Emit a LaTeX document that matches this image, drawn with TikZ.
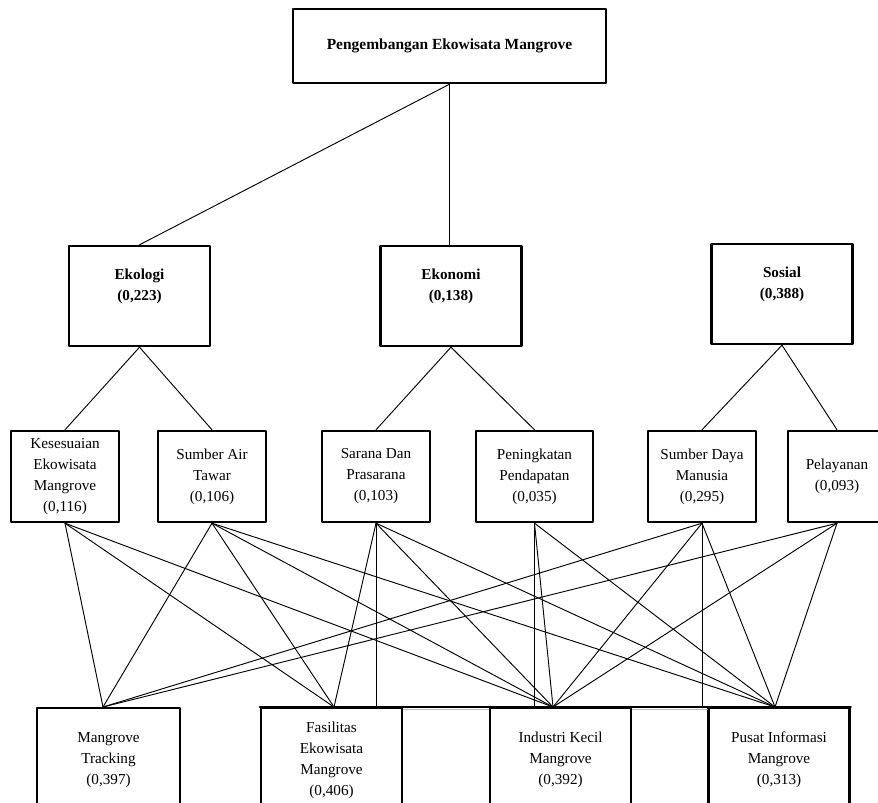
\documentclass[tikz,border=0pt]{standalone}
\usepackage{fontspec}
\setmainfont{Liberation Serif}
\usetikzlibrary{calc,positioning}

\tikzset{
  box/.style={draw, line width=1.8pt, inner sep=0pt, align=center,
    font=\fontsize{11.4}{15.75}\selectfont},
  goalbox/.style={box, minimum width=234.75pt, minimum height=55.5pt,
    font=\fontsize{11.6}{15.75}\selectfont\bfseries},
  critbox/.style={box, minimum width=105.75pt, minimum height=75pt},
  crittext/.style={inner sep=0pt, align=center,
    font=\fontsize{11.4}{15.75}\selectfont\bfseries},
  subbox/.style={box, minimum width=81pt, minimum height=68.25pt},
  altbox/.style={box, minimum width=105.75pt, minimum height=78pt},
  link/.style={line width=0.7pt}
}

\begin{document}
\begin{tikzpicture}[x=0.75pt, y=-0.75pt, line join=round, line cap=round]
    \useasboundingbox (0,0) rectangle (878,803);
    \clip (0,0) rectangle (878,803);
    \fill[white] (0,0) rectangle (878,803);

    % goal
    \node[goalbox] (goal) at (449.5,46) {Pengembangan Ekowisata Mangrove};

    % criteria
    \node[critbox] (ekologi) at (139.5,296) {};
    \node[critbox] (ekonomi) at (451,296) {};
    \node[critbox] (sosial) at (782,294) {};
    \node[crittext] (ekologi-t) at ([yshift=7.5pt]ekologi.center) {Ekologi\\(0,223)};
    \node[crittext] (ekonomi-t) at ([yshift=7.5pt]ekonomi.center) {Ekonomi\\(0,138)};
    \node[crittext] (sosial-t) at ([yshift=7.5pt]sosial.center) {Sosial\\(0,388)};

    % sub criteria
    \node[subbox] (kes) at (65,476.5) {Kesesuaian\\Ekowisata\\Mangrove\\(0,116)};
    \node[subbox] (sat) at (212,476.5) {Sumber Air\\Tawar\\(0,106)};
    \node[subbox] (sar) at (376,476.5) {Sarana Dan\\Prasarana\\(0,103)};
    \node[subbox, minimum width=87.75pt] (pen) at (534.5,476.5) {Peningkatan\\Pendapatan\\(0,035)};
    \node[subbox] (sdm) at (702,476.5) {Sumber Daya\\Manusia\\(0,295)};
    \node[subbox, minimum width=73.5pt] (pel) at (837,476.5) {Pelayanan\\(0,093)};

    % alternatives
    \node[altbox, minimum width=107.25pt] (mt) at (108.5,760) {Mangrove\\Tracking\\(0,397)};
    \node[altbox] (fas) at (331.5,760) {Fasilitas\\Ekowisata\\Mangrove\\(0,406)};
    \node[altbox] (ind) at (560.5,760) {Industri Kecil\\Mangrove\\(0,392)};
    \node[altbox] (pus) at (779,760) {Pusat Informasi\\Mangrove\\(0,313)};
    \draw[gray!50, line width=0.6pt] ([yshift=-2pt]fas.north east) -- ([yshift=-2pt]ind.north west);
    \draw[gray!50, line width=0.6pt] ([yshift=-2pt]ind.north east) -- ([yshift=-2pt]pus.north west);
    \draw[line width=1.8pt] (fas.north west) -- (pus.north east);

    \coordinate (mt-in) at (103,707);
    \coordinate (fas-in) at (334,707);
    \coordinate (ind-in) at (553,707);
    \coordinate (pus-in) at (775,707);

    % goal to criteria
    \draw[link] (goal.south) -- (ekologi.north);
    \draw[link] (goal.south) -- (goal.south |- ekonomi.north);

    % criteria to sub criteria
    \draw[link] (ekologi.south) -- (kes.north);
    \draw[link] (ekologi.south) -- (sat.north);
    \draw[link] (ekonomi.south) -- (sar.north);
    \draw[link] (ekonomi.south) -- (pen.north);
    \draw[link] (sosial.south) -- (sdm.north);
    \draw[link] (sosial.south) -- (pel.north);

    % sub criteria to alternatives
    \draw[link] (kes.south) -- (mt-in);
    \draw[link] (kes.south) -- (fas-in);
    \draw[link] (kes.south) -- (ind-in);
    \draw[link] (sat.south) -- (mt-in);
    \draw[link] (sat.south) -- (fas-in);
    \draw[link] (sat.south) -- (ind-in);
    \draw[link] (sat.south) -- (pus-in);
    \draw[link] (sar.south) -- (fas-in);
    \draw[link] (sar.south) -- (sar.south |- fas.north);
    \draw[link] (sar.south) -- (ind-in);
    \draw[link] (sar.south) -- (pus-in);
    \draw[link] (pen.south) -- (pen.south |- ind.north);
    \draw[link] (pen.south) -- (ind-in);
    \draw[link] (pen.south) -- (pus-in);
    \draw[link] (sdm.south) -- (mt-in);
    \draw[link] (sdm.south) -- (ind-in);
    \draw[link] (sdm.south) -- (sdm.south |- ind.north);
    \draw[link] (sdm.south) -- (pus-in);
    \draw[link] (pel.south) -- (mt-in);
    \draw[link] (pel.south) -- (ind-in);
    \draw[link] (pel.south) -- (pus-in);
  \end{tikzpicture}
\end{document}
